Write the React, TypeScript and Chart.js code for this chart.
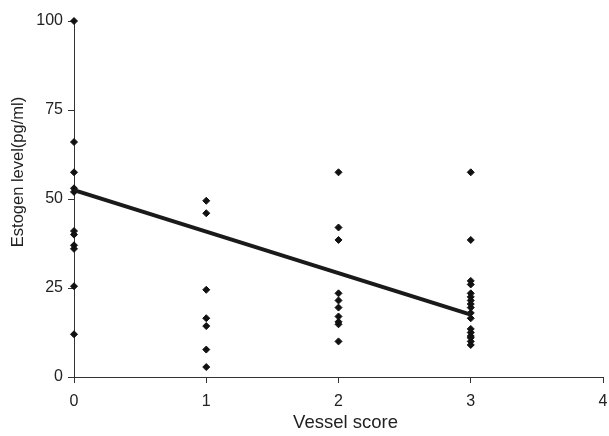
import React, { useEffect, useRef } from "react";
import { Chart, registerables } from "chart.js";

Chart.register(...registerables);

// Vessel score groups and estrogen levels (pg/ml)
const score0 = [100, 66, 57.5, 53, 52, 41, 40, 37, 36, 25.5, 12];
const score1 = [49.5, 46, 24.5, 16.5, 14.3, 7.7, 2.8];
const score2 = [57.5, 42, 38.5, 23.5, 21.5, 19.5, 17, 15.5, 14.8, 10];
const score3 = [57.5, 38.5, 27, 26, 23.5, 22.5, 21.5, 20.5, 19.5, 18, 16.5, 13.5, 12.5, 11.5, 11, 10, 9];
const scores = [0, 1, 2, 3];
const groups = [score0, score1, score2, score3];

// regression line end points
const trendX = [0, 3];
const trendY = [52.5, 17.5];

const xTicks = [0, 1, 2, 3, 4];
const yTicks = [0, 25, 50, 75, 100];

const yTitle = "Estogen level(pg/ml)";
const xTitle = "Vessel score";

const FONT = "'Liberation Sans', Arial, Helvetica, sans-serif";
const TEXT = "#222";
const AXIS = "#333";

export default function App() {
  const ref = useRef<HTMLCanvasElement | null>(null);

  useEffect(() => {
    document.body.style.margin = "0";
    const canvas = ref.current;
    if (!canvas) return;

    const points: { x: number; y: number }[] = [];
    scores.forEach((s, i) => groups[i].forEach((v) => points.push({ x: s, y: v })));

    const titlePlugin = {
      id: "titlePlugin",
      afterDraw(chart: any) {
        const { ctx, chartArea } = chart;
        ctx.save();
        ctx.fillStyle = TEXT;
        ctx.textAlign = "center";
        ctx.textBaseline = "middle";
        ctx.font = `18.5px ${FONT}`;
        ctx.fillText(xTitle, (chartArea.left + chartArea.right) / 2 + 7, chartArea.bottom + 46);
        ctx.font = `16.5px ${FONT}`;
        ctx.translate(18, (chartArea.top + chartArea.bottom) / 2 - 27);
        ctx.rotate(-Math.PI / 2);
        ctx.fillText(yTitle, 0, 0);
        ctx.restore();
      },
    };

    const chart = new Chart(canvas, {
      type: "scatter",
      data: {
        datasets: [
          {
            type: "line",
            data: trendX.map((x, i) => ({ x, y: trendY[i] })),
            borderColor: "#1a1a1a",
            borderWidth: 4,
            pointRadius: 0,
            fill: false,
            clip: false as any,
          } as any,
          {
            data: points,
            pointStyle: "rectRot",
            pointRadius: 3.5,
            pointBorderWidth: 1,
            backgroundColor: "#111",
            borderColor: "#111",
            clip: false as any,
          },
        ],
      },
      options: {
        animation: false,
        responsive: false,
        maintainAspectRatio: false,
        layout: { padding: { top: 21, right: 6, left: 0, bottom: 0 } },
        plugins: { legend: { display: false }, tooltip: { enabled: false } },
        scales: {
          x: {
            type: "linear",
            min: 0,
            max: 4,
            afterBuildTicks: (scale: any) => {
              scale.ticks = xTicks.map((v) => ({ value: v }));
            },
            afterFit: (scale: any) => {
              scale.height = 59;
              scale.paddingLeft = 0;
              scale.paddingRight = 0;
            },
            ticks: { color: TEXT, font: { size: 16, family: FONT }, padding: 9 },
            grid: { display: true, drawOnChartArea: false, drawTicks: true, tickLength: 6, color: AXIS },
            border: { display: true, color: AXIS },
          },
          y: {
            type: "linear",
            min: 0,
            max: 100,
            afterBuildTicks: (scale: any) => {
              scale.ticks = yTicks.map((v) => ({ value: v }));
            },
            afterFit: (scale: any) => {
              scale.width = 74;
              scale.paddingTop = 0;
              scale.paddingBottom = 0;
            },
            ticks: { color: TEXT, font: { size: 16, family: FONT }, padding: 5 },
            grid: { display: true, drawOnChartArea: false, drawTicks: true, tickLength: 6, color: AXIS },
            border: { display: true, color: AXIS },
          },
        },
      },
      plugins: [titlePlugin],
    });

    return () => chart.destroy();
  }, []);

  return <canvas ref={ref} width={609} height={436} style={{ display: "block" }} />;
}
